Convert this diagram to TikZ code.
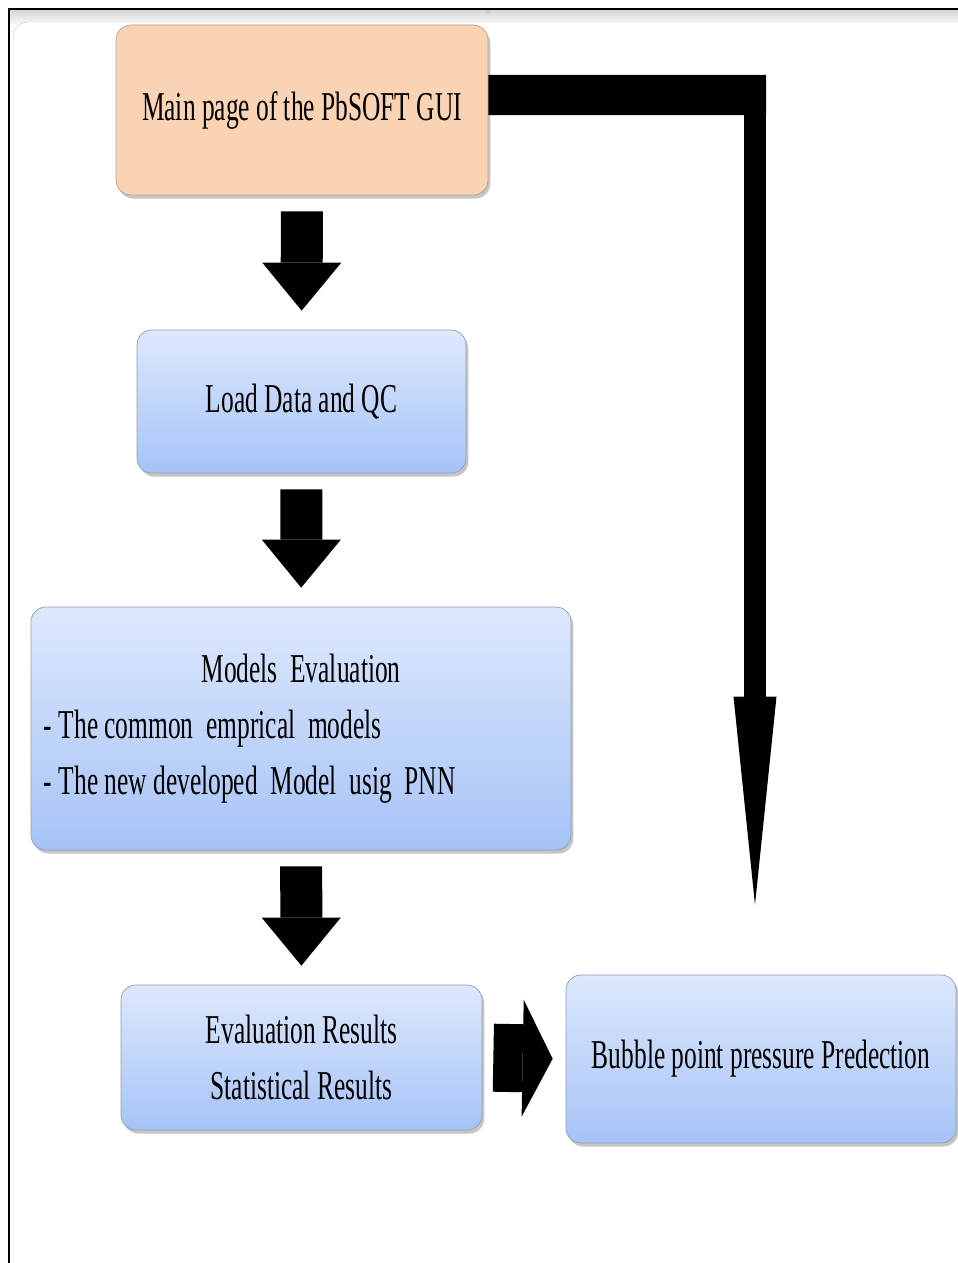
\documentclass[tikz,border=0pt]{standalone}
\usepackage{fontspec}
\setmainfont{Liberation Serif}[FakeStretch=0.62]
\usetikzlibrary{arrows.meta,shadows}
\definecolor{peach}{HTML}{F9D3B3}
\definecolor{peachline}{HTML}{B8A090}
\definecolor{bluetop}{HTML}{DDE8FC}
\definecolor{bluebot}{HTML}{A6C3F7}
\definecolor{blueline}{HTML}{8E9DB8}
\begin{document}
\begin{tikzpicture}[x=.03cm,y=-.03cm,font=\fontsize{35}{48}\selectfont,
  box/.style={rounded corners=.45cm,draw=blueline,line width=.6pt,top color=bluetop,bottom color=bluebot,
    drop shadow={shadow xshift=2pt,shadow yshift=-3pt,opacity=.45},inner sep=0pt},
  down/.style={line width=1.26cm,-{Triangle[length=1.44cm,width=2.37cm,line width=0pt]},shorten <=.48cm,shorten >=.57cm}]
  \useasboundingbox (0,0) rectangle (958,1263);
  \fill[white] (0,0) rectangle (958,1263);
  \shade[top color=gray!35,bottom color=white] (9,9) rectangle (958,26);
  \fill[white,rounded corners=.45cm] (13,22) rectangle (990,1300);
  \draw[gray!40,rounded corners=.45cm] (13,1300) -- (13,22) -- (990,22);
  \draw[line width=1.2pt] (9,1263) -- (9,9) -- (958,9);
  \node[font=\tiny,gray] (grip) at (488,13) {////};
  \node[box,draw=peachline,top color=peach,bottom color=peach,minimum width=372*.03cm,minimum height=170*.03cm] (main) at (302,110) {Main page of the PbSOFT GUI};
  \node[box,minimum width=329*.03cm,minimum height=143*.03cm] (load) at (301.5,401.5) {Load Data and QC};
  \node[box,minimum width=540*.03cm,minimum height=243*.03cm,text width=514*.03cm,align=left] (models) at (301,728.5)
    {\spaceskip=0pt\xspaceskip=0pt\makebox[\linewidth]{Models\ \ Evaluation}\\- The common\ \ emprical\ \ models\\- The new developed\ \ Model\ \ usig\ \ PNN};
  \node[box,minimum width=361*.03cm,minimum height=145*.03cm,align=center] (res) at (301.5,1057.5) {Evaluation Results\\Statistical Results};
  \node[box,minimum width=390*.03cm,minimum height=168*.03cm] (bub) at (761,1059) {Bubble point pressure Predection};
  \coordinate (elbow) at (755,95);
  \draw[down] (main) -- (load);
  \draw[down] (load) -- (models);
  \draw[down] (models) -- (res);
  \draw[line width=2.04cm,-{Triangle[length=.9cm,width=3.51cm,line width=0pt]},shorten <=.33cm,shorten >=.39cm] (res.east) -- (bub.west);
  \draw[line width=1.2cm] ([yshift=.45cm]main.east) -- ([xshift=.33cm]elbow);
  \draw[line width=.66cm,-{Triangle[length=6.24cm,width=1.29cm,line width=0pt]},shorten >=2.1cm] ([yshift=.6cm]elbow) -- (elbow |- bub.north);
\end{tikzpicture}
\end{document}
